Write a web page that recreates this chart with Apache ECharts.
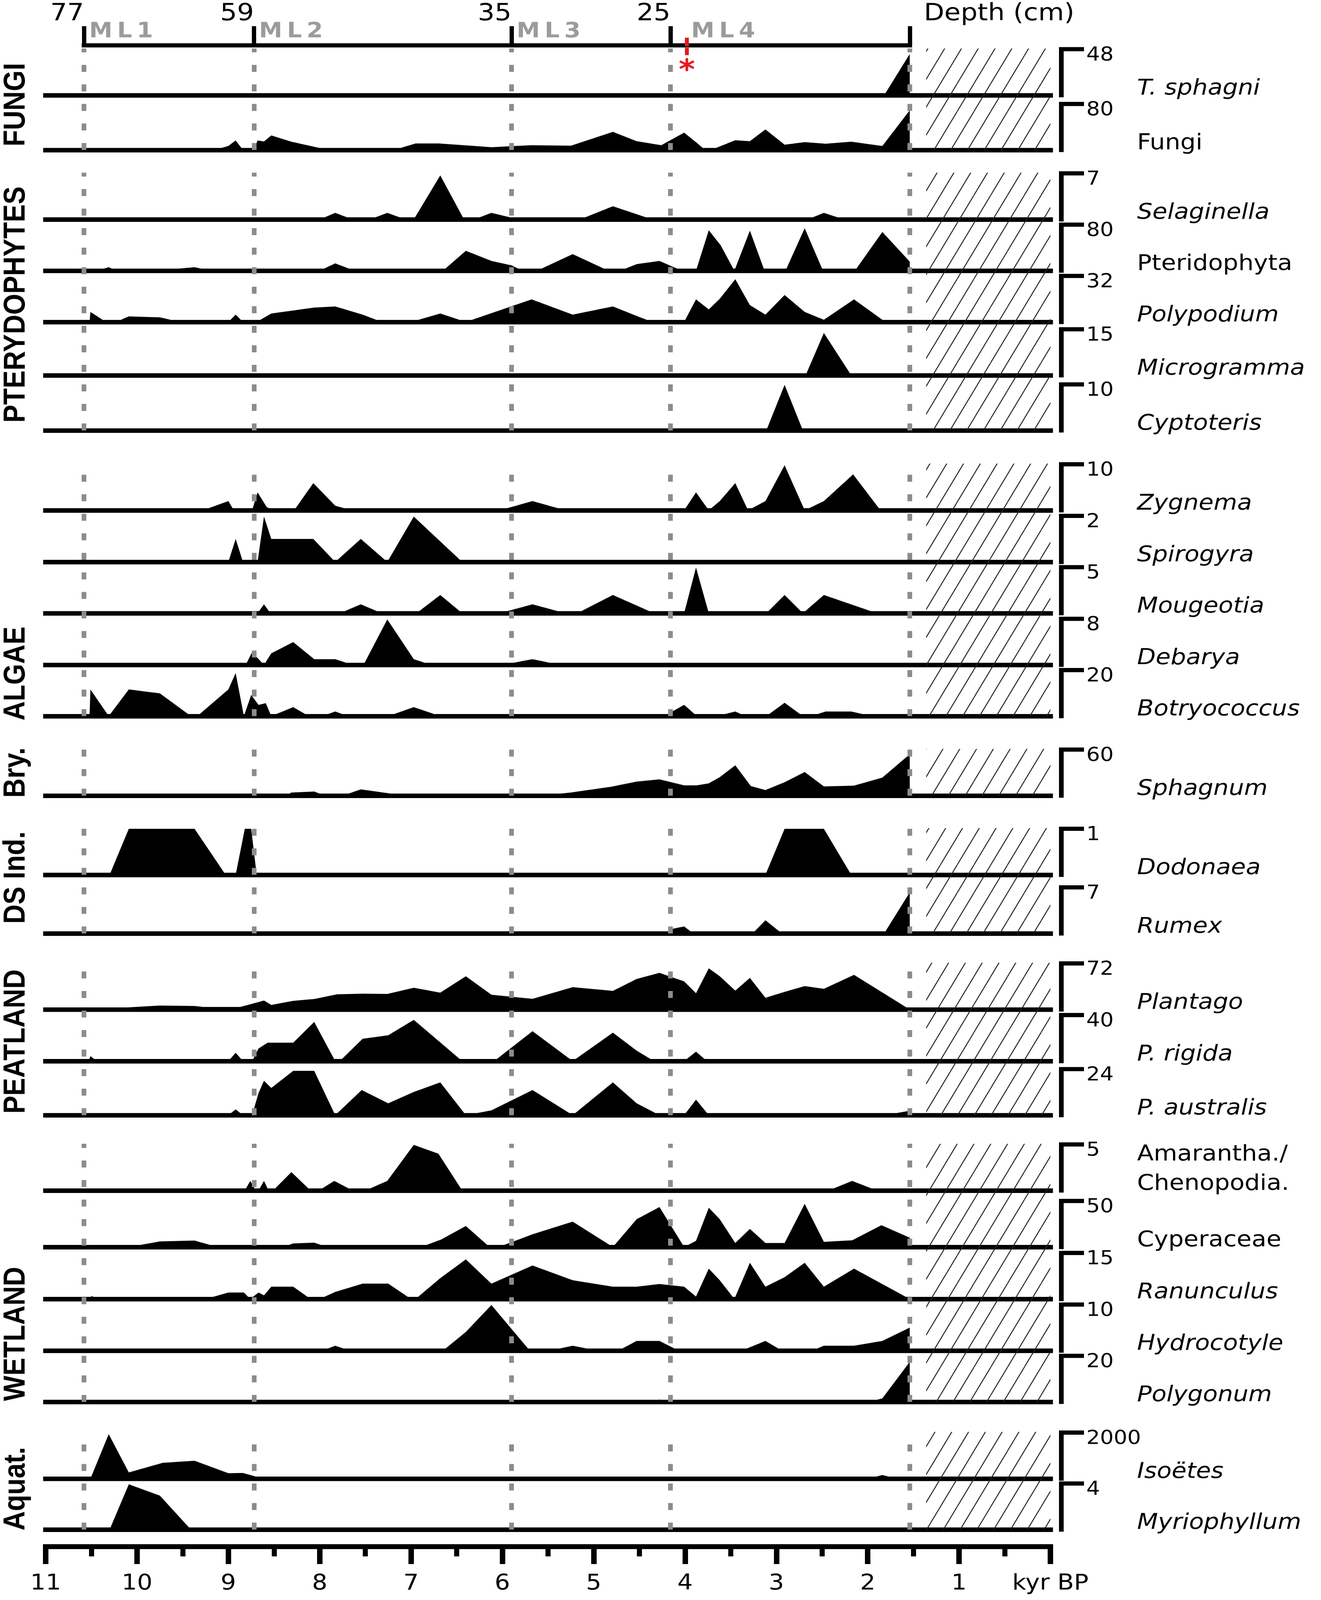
<!DOCTYPE html>
<html>
<head>
<meta charset="utf-8">
<title>Palynomorph diagram</title>
<script src="https://cdn.jsdelivr.net/npm/echarts@6/dist/echarts.min.js"></script>
<style>
html, body { margin: 0; padding: 0; background: #fff; overflow: hidden; }
#container { width: 3383px; height: 4587px; }
</style>
</head>
<body>
<div id="container"></div>
<script>
/**
 * data: [age (kyr BP), value]
 */
var tSphagni = [[1.82,0],[1.54,43]];
var fungi = [[9.16,0],[9.00,7],[8.92,16.6],[8.84,0],[8.72,0],[8.68,16.6],[8.61,14.8],[8.53,25.3],[8.31,14.4],[7.90,0],[7.19,0],[6.95,11.4],[6.69,11.4],[6.12,4.8],[5.68,8.3],[5.25,7.4],[4.79,31.5],[4.53,15.3],[4.26,8.3],[4.01,30.1],[3.87,12.2],[3.78,0],[3.67,3],[3.45,17],[3.29,15.3],[3.12,35.8],[2.91,9.2],[2.69,13.6],[2.46,10.9],[2.18,14.4],[1.84,7],[1.54,69]];
var selaginella = [[8.00,0],[7.83,1.0],[7.64,0],[7.45,0],[7.26,1.0],[7.06,0],[6.97,0],[6.68,6.7],[6.42,0],[6.31,0],[6.12,1.0],[5.82,0],[5.15,0],[4.79,2.0],[4.36,0],[2.66,0],[2.48,1.0],[2.26,0]];
var pteridophyta = [[10.44,0],[10.31,6],[10.22,0],[9.81,0],[9.37,6],[9.19,0],[8.00,0],[7.83,12.7],[7.62,0],[6.65,0],[6.40,34.5],[6.12,17],[5.90,9.2],[5.78,0],[5.62,0],[5.23,28.8],[4.84,0],[4.71,0],[4.53,11.4],[4.28,17],[4.15,7.9],[4.03,0],[3.88,0],[3.74,70.3],[3.61,44.1],[3.46,0],[3.29,69.5],[3.13,0],[2.90,0],[2.69,73.8],[2.49,0],[2.14,0],[1.84,67.3],[1.54,15.7]];
var polypodium = [[10.52,0],[10.51,7.0],[10.34,0],[10.23,0],[10.09,3.9],[9.75,3.2],[9.53,0],[9.00,0],[8.92,5.1],[8.84,0],[8.69,0],[8.53,5.9],[8.06,10.0],[7.83,10.8],[7.53,5.1],[7.32,0],[7.00,0],[6.68,5.9],[6.40,0],[5.68,15.7],[5.23,5.1],[4.79,10.8],[4.53,4.2],[4.36,0],[4.01,0],[3.88,15.7],[3.74,8.7],[3.62,16.1],[3.45,29.7],[3.29,11.7],[3.12,5.1],[2.91,18.7],[2.69,7.0],[2.48,1.5],[2.15,15.7],[1.84,1.5],[1.54,0]];
var microgramma = [[2.68,0],[2.48,13.8],[2.18,0]];
var cyptoteris = [[3.11,0],[2.91,9.9],[2.71,0]];
var zygnema = [[9.28,0],[9.00,2.0],[8.94,0],[8.74,0],[8.68,3.9],[8.58,0.7],[8.50,0],[8.28,0],[8.07,5.9],[7.83,1.0],[7.65,0],[6.03,0],[5.67,2.0],[5.31,0],[4.01,0],[3.88,3.9],[3.74,0],[3.62,2.0],[3.45,5.9],[3.31,0],[3.12,2.0],[2.91,9.8],[2.69,0],[2.48,2.0],[2.16,7.8],[1.86,0]];
var spirogyra = [[9.00,0],[8.92,1.0],[8.84,0],[8.68,0],[8.61,1.97],[8.53,1.0],[8.07,1.0],[7.83,0],[7.55,1.0],[7.26,0],[6.97,1.97],[6.44,0]];
var mougeotia = [[8.68,0],[8.61,0.97],[8.54,0],[7.78,0],[7.55,0.97],[7.32,0],[6.94,0],[6.68,1.98],[6.44,0],[6.03,0],[5.67,0.97],[5.31,0],[5.18,0],[4.79,1.98],[4.34,0],[4.01,0],[3.88,4.96],[3.74,0],[3.11,0],[2.91,1.98],[2.71,0],[2.48,1.98],[1.90,0]];
var debarya = [[8.81,0],[8.74,2.2],[8.61,0],[8.53,2.0],[8.29,3.95],[8.06,0.98],[7.83,0.98],[7.64,0],[7.52,0],[7.26,7.9],[6.97,0.98],[6.78,0],[6.00,0],[5.67,0.98],[5.37,0]];
var botryococcus = [[10.52,0],[10.51,11.6],[10.31,0],[10.09,11.6],[9.75,9.9],[9.41,0],[9.34,0],[9.00,11.6],[8.92,18.7],[8.83,0],[8.75,9.2],[8.67,4.9],[8.59,5.6],[8.53,0],[8.29,3.9],[8.12,0],[7.97,0],[7.83,2.0],[7.69,0],[7.25,0],[6.97,3.9],[6.68,0],[4.23,0],[4.01,4.9],[3.87,0],[3.65,0],[3.45,2.0],[3.34,0],[3.11,0],[2.91,5.8],[2.71,0],[2.62,0],[2.46,2.0],[2.18,2.0],[1.96,0]];
var sphagnum = [[8.37,0],[8.31,4.1],[8.06,5.3],[7.94,0],[7.75,0],[7.55,8.2],[7.06,0],[5.87,0],[5.50,1],[5.25,4.1],[4.81,11.6],[4.53,18.3],[4.28,21.2],[4.01,13.4],[3.87,13.4],[3.74,16],[3.62,24.1],[3.45,39.5],[3.28,12.5],[3.12,7.3],[2.91,17.5],[2.69,30.8],[2.48,12],[2.15,13.1],[1.84,23.5],[1.54,54]];
var dodonaea = [[10.30,0],[10.09,1],[9.37,1],[9.03,0],[8.92,0],[8.82,1],[8.75,1],[8.69,0],[3.12,0],[2.91,1],[2.48,1],[2.18,0]];
var rumex = [[4.16,0],[4.15,0.66],[4.01,1.06],[3.91,0],[3.26,0],[3.12,2.0],[2.94,0],[1.82,0],[1.54,6.25]];
var plantago = [[11.0,3],[10.13,3],[9.75,6.1],[9.37,5.5],[9.28,4],[8.87,4],[8.67,11.6],[8.61,14.1],[8.53,7.1],[8.29,13.5],[8.06,16.4],[7.81,23.7],[7.53,24.7],[7.26,24.3],[6.97,33.9],[6.68,26.3],[6.40,51.9],[6.12,23.1],[5.67,16.7],[5.23,34.9],[4.79,29.1],[4.53,47.7],[4.28,57.3],[4.01,43.9],[3.88,25.3],[3.74,64.4],[3.62,51.9],[3.45,29.5],[3.29,49.3],[3.12,18.3],[2.91,27.5],[2.69,36.5],[2.48,32.3],[2.15,54.1],[1.54,0]];
var pRigida = [[10.53,0],[10.51,4.3],[10.44,0],[9.00,0],[8.92,7.3],[8.84,0],[8.74,0],[8.67,10.9],[8.57,16],[8.29,16],[8.06,34],[7.83,0],[7.78,0],[7.53,19.4],[7.25,22.4],[6.97,35.8],[6.44,0],[6.09,0],[5.67,26],[5.23,0],[4.79,24.7],[4.53,9.1],[4.34,0],[4.01,0],[3.88,8.2],[3.76,0]];
var pAustralis = [[9.00,0],[8.92,3.0],[8.84,0],[8.74,0],[8.67,11.5],[8.61,17.9],[8.53,14.2],[8.29,23.1],[8.06,23.1],[7.83,0],[7.54,13.1],[7.25,6.2],[6.97,12.1],[6.68,17.1],[6.40,0],[6.12,2.5],[5.67,13.1],[5.23,0],[4.79,17.1],[4.53,6.2],[4.28,0],[4.01,0],[3.88,8.1],[3.74,0],[1.81,0],[1.54,2.3]];
var amaranthaChenopodia = [[8.82,0],[8.76,1.04],[8.70,0],[8.67,0],[8.61,1.04],[8.56,0],[8.51,0],[8.31,2.0],[8.10,0],[8.01,0],[7.84,1.04],[7.64,0],[7.50,0],[7.26,1.04],[6.97,4.95],[6.70,4.0],[6.44,0],[2.43,0],[2.17,1.04],[1.90,0]];
var cyperaceae = [[10.09,0],[9.75,6.1],[9.37,7.0],[9.12,0],[8.40,0],[8.29,3.9],[8.06,4.7],[7.92,0],[6.89,0],[6.67,8.1],[6.40,22.8],[6.14,0],[6.04,0],[5.67,13.8],[5.23,27.6],[4.79,0],[4.53,30.2],[4.28,43.4],[4.01,0],[3.88,6.7],[3.74,42.6],[3.62,30.2],[3.45,4.4],[3.29,19.7],[3.12,4.4],[2.91,4.4],[2.69,46.9],[2.48,5.6],[2.17,7.3],[1.85,23.7],[1.54,10.1]];
var ranunculus = [[10.52,0],[10.50,0.9],[10.38,0],[9.25,0],[9.00,2.1],[8.83,2.1],[8.76,0],[8.67,2.1],[8.61,1.2],[8.53,4.0],[8.29,4.0],[8.10,0],[8.00,0],[7.83,2.3],[7.53,5.0],[7.25,5.0],[7.00,0],[6.95,0],[6.68,6.8],[6.40,12.9],[6.12,5.0],[5.67,10.9],[5.23,6.1],[4.79,4.0],[4.53,4.0],[4.28,4.9],[4.01,4.0],[3.88,0.8],[3.74,9.9],[3.62,6.1],[3.46,0],[3.29,11.8],[3.12,4.0],[2.91,7.1],[2.69,11.8],[2.48,4.0],[2.15,9.9],[1.54,0]];
var hydrocotyle = [[7.97,0],[7.83,1.06],[7.67,0],[6.65,0],[6.40,4.05],[6.12,9.9],[5.70,0],[5.48,0],[5.23,1.06],[4.96,0],[4.73,0],[4.53,2.1],[4.28,2.1],[4.07,0],[3.38,0],[3.12,2.1],[2.94,0],[2.61,0],[2.48,1.06],[2.15,1.06],[1.84,2.1],[1.54,5.0]];
var polygonum = [[4.53,0],[4.28,1.0],[4.07,0],[1.99,0],[1.84,1.5],[1.54,17.4]];
var isoetes = [[10.51,0],[10.31,1930],[10.09,268],[9.72,686],[9.37,777],[9.00,235],[8.84,245],[8.62,0],[1.99,0],[1.84,155],[1.68,0]];
var myriophyllum = [[10.30,0],[10.09,3.93],[9.75,2.95],[9.41,0]];

var taxa = [tSphagni, fungi, selaginella, pteridophyta, polypodium, microgramma, cyptoteris,
    zygnema, spirogyra, mougeotia, debarya, botryococcus, sphagnum, dodonaea, rumex,
    plantago, pRigida, pAustralis, amaranthaChenopodia, cyperaceae, ranunculus,
    hydrocotyle, polygonum, isoetes, myriophyllum];
var taxonNames = ['T. sphagni', 'Fungi', 'Selaginella', 'Pteridophyta', 'Polypodium', 'Microgramma', 'Cyptoteris',
    'Zygnema', 'Spirogyra', 'Mougeotia', 'Debarya', 'Botryococcus', 'Sphagnum', 'Dodonaea', 'Rumex',
    'Plantago', 'P. rigida', 'P. australis', 'Amarantha./\nChenopodia.', 'Cyperaceae', 'Ranunculus',
    'Hydrocotyle', 'Polygonum', 'Isoëtes', 'Myriophyllum'];
var taxonItalic = [true, false, true, false, true, true, true, true, true, true, true, true, true, true, true,
    true, true, true, false, false, true, true, true, true, true];
var scaleMax = [48, 80, 7, 80, 32, 15, 10, 10, 2, 5, 8, 20, 60, 1, 7, 72, 40, 24, 5, 50, 15, 10, 20, 2000, 4];

var groupNames = ['FUNGI', 'PTERYDOPHYTES', 'ALGAE', 'Bry.', 'DS Ind.', 'PEATLAND', 'WETLAND', 'Aquat.'];
var groupSizes = [2, 5, 5, 1, 2, 3, 5, 2];

var zoneAges = [10.58, 8.72, 5.90, 4.16, 1.54];
var depthLabels = ['77', '59', '35', '25'];
var zoneNames = ['ML1', 'ML2', 'ML3', 'ML4'];
var hatchAges = [1.36, 0];
var redMarkAge = 3.98;
var ageUnitLabel = 'kyr BP';

// ---- layout ----
var PAGE_W = 3383, PAGE_H = 4587;
var PLOT_LEFT = 117, PLOT_W = 2573, AGE_MAX = 11, PANEL_H = 132;
var panelBaselines = [273, 430, 629, 776, 923, 1076, 1234, 1463, 1611, 1758, 1906, 2053, 2281,
    2508, 2676, 2894, 3042, 3197, 3413, 3575, 3724, 3872, 4019, 4239, 4385];
var groupLabelY = [300, 873, 1931, 2215, 2516, 2986, 3824, 4268];
var FONT = 'DejaVu Sans';

// if the window is not the size of the page, squeeze the page so it all shows
var dom = document.getElementById('container');
(function () {
    var w = window.innerWidth, h = window.innerHeight;
    if (w > 100 && h > 100 && (Math.abs(w - PAGE_W) > 2 || Math.abs(h - PAGE_H) > 2)) {
        dom.style.transformOrigin = '0 0';
        dom.style.transform = 'scale(' + (w / PAGE_W) + ',' + (h / PAGE_H) + ')';
    }
})();

// hatch pattern
var hatch = document.createElement('canvas');
hatch.width = 43; hatch.height = 80;
var hctx = hatch.getContext('2d');
hctx.strokeStyle = '#222';
hctx.lineWidth = 2.5;
for (var k = -1; k <= 1; k++) {
    hctx.beginPath();
    hctx.moveTo(k * 43, 80);
    hctx.lineTo((k + 1) * 43, 0);
    hctx.stroke();
}

var grids = [], xAxes = [], yAxes = [], series = [];

// panels
taxa.forEach(function (d, i) {
    var base = panelBaselines[i];
    grids.push({left: PLOT_LEFT, width: PLOT_W, top: base - PANEL_H, height: PANEL_H});
    xAxes.push({
        type: 'value', gridIndex: i, min: 0, max: AGE_MAX, inverse: true,
        axisLine: {show: true, onZero: false, lineStyle: {color: '#000', width: 13, cap: 'square'}},
        axisTick: {show: false}, axisLabel: {show: false}, splitLine: {show: false}
    });
    yAxes.push({
        type: 'value', gridIndex: i, position: 'right', offset: 28, min: 0, max: scaleMax[i],
        axisLine: {show: true, onZero: false, lineStyle: {color: '#000', width: 12, cap: 'square'}},
        axisTick: {show: true, length: 58, customValues: [scaleMax[i]], lineStyle: {color: '#000', width: 12}},
        axisLabel: {
            show: true, customValues: [scaleMax[i]], margin: 64, verticalAlign: 'top', lineHeight: 36,
            fontSize: 55, fontFamily: FONT, color: '#000',
            formatter: function (v) { return String(v); }
        },
        splitLine: {show: false}
    });
    series.push({
        type: 'line', xAxisIndex: i, yAxisIndex: i, data: d, symbol: 'none',
        lineStyle: {width: 0}, areaStyle: {color: '#000', opacity: 1}, silent: true, z: 2
    });
});

// groups: zone dashed lines and hatched unsampled part
var start = 0;
groupSizes.forEach(function (size, g) {
    var idx = grids.length;
    var top = panelBaselines[start] - PANEL_H - 2;
    var bottom = panelBaselines[start + size - 1];
    grids.push({left: PLOT_LEFT, width: PLOT_W, top: top, height: bottom - top});
    xAxes.push({type: 'value', gridIndex: idx, show: false, min: 0, max: AGE_MAX, inverse: true});
    yAxes.push({type: 'value', gridIndex: idx, show: false, min: 0, max: 1});
    series.push({
        type: 'line', xAxisIndex: idx, yAxisIndex: idx, data: [[AGE_MAX, 0]], symbol: 'none',
        lineStyle: {width: 0}, silent: true, z: 5,
        markLine: {
            silent: true, symbol: ['none', 'none'], label: {show: false},
            lineStyle: {color: '#8c8c8c', width: 12, type: [20, 36]},
            data: zoneAges.map(function (a) { return {xAxis: a}; })
        },
        markArea: {
            silent: true,
            itemStyle: {color: {image: hatch, repeat: 'repeat'}, opacity: 1},
            data: [[{xAxis: hatchAges[0]}, {xAxis: hatchAges[1]}]]
        }
    });
    start += size;
});

// depth axis on top
var pxPerKyr = PLOT_W / AGE_MAX;
var depthIdx = grids.length;
grids.push({
    left: PLOT_LEFT + (AGE_MAX - zoneAges[0]) * pxPerKyr,
    width: (zoneAges[0] - zoneAges[zoneAges.length - 1]) * pxPerKyr,
    top: 60, height: 70
});
xAxes.push({
    type: 'value', gridIndex: depthIdx, position: 'bottom', inverse: true,
    min: zoneAges[zoneAges.length - 1], max: zoneAges[0],
    axisLine: {show: true, onZero: false, lineStyle: {color: '#000', width: 12, cap: 'square'}},
    axisTick: {show: true, inside: true, length: 55, customValues: zoneAges, lineStyle: {color: '#000', width: 11}},
    axisLabel: {
        show: true, inside: true, customValues: zoneAges.slice(0, depthLabels.length), margin: 56, align: 'right',
        fontSize: 68, fontFamily: FONT, color: '#000',
        formatter: function (v) {
            for (var j = 0; j < depthLabels.length; j++) {
                if (Math.abs(zoneAges[j] - v) < 1e-6) return depthLabels[j];
            }
            return '';
        }
    },
    splitLine: {show: false}
});
yAxes.push({type: 'value', gridIndex: depthIdx, show: false, min: 0, max: 1});
series.push({
    type: 'line', xAxisIndex: depthIdx, yAxisIndex: depthIdx, data: [[zoneAges[0], 0]], symbol: 'none',
    lineStyle: {width: 0}, silent: true, z: 5,
    markArea: {
        silent: true,
        itemStyle: {color: 'rgba(0,0,0,0)'},
        label: {
            show: true, position: 'insideBottomLeft', distance: 9, offset: [4, 0],
            formatter: function (p) {
                return p.name.split('').map(function (c) { return '{z|' + c + '}'; }).join('');
            },
            rich: {
                z: {color: '#9b9b9b', fontSize: 60, fontWeight: 'bold', fontFamily: FONT, padding: [0, 12, 0, 0]}
            }
        },
        data: zoneNames.map(function (n, j) {
            var first = {name: n, xAxis: zoneAges[j]};
            if (j === zoneNames.length - 1) first.label = {offset: [44, 0]};
            return [first, {xAxis: zoneAges[j + 1]}];
        })
    }
});

// bottom age axis
var bottomIdx = grids.length;
grids.push({left: PLOT_LEFT, width: PLOT_W, top: 4430, height: 4});
xAxes.push({
    type: 'value', gridIndex: bottomIdx, position: 'bottom', min: 0, max: AGE_MAX, interval: 1, inverse: true,
    axisLine: {show: true, onZero: false, lineStyle: {color: '#000', width: 14, cap: 'square'}},
    axisTick: {show: true, length: 50, lineStyle: {color: '#000', width: 14}},
    minorTick: {show: true, splitNumber: 2, length: 28, lineStyle: {color: '#000', width: 13}},
    axisLabel: {
        show: true, margin: 76, fontSize: 62, fontFamily: FONT, color: '#000',
        formatter: function (v) { return v === 0 ? ageUnitLabel : String(v); }
    },
    splitLine: {show: false}, minorSplitLine: {show: false}
});
yAxes.push({type: 'value', gridIndex: bottomIdx, show: false, min: 0, max: 1});

var chart = echarts.init(dom);
chart.setOption({
    backgroundColor: '#fff',
    animation: false,
    grid: grids,
    xAxis: xAxes,
    yAxis: yAxes,
    series: series
});

// text annotations
var graphics = [];
taxonNames.forEach(function (n, i) {
    graphics.push({
        type: 'text', x: 2912, y: panelBaselines[i] - 18 - (n.indexOf('\n') >= 0 ? 42 : 0), silent: true,
        style: {
            text: n, fill: '#000', fontSize: 62, fontFamily: FONT,
            fontStyle: taxonItalic[i] ? 'italic' : 'normal', lineHeight: 84,
            align: 'left', verticalAlign: 'middle', textAlign: 'left', textVerticalAlign: 'middle'
        }
    });
});
groupNames.forEach(function (n, g) {
    graphics.push({
        type: 'text', x: 42, y: groupLabelY[g], rotation: Math.PI / 2, silent: true,
        style: {
            text: n, fill: '#000', fontSize: 77, fontWeight: 'bold', fontFamily: 'Liberation Sans',
            align: 'center', verticalAlign: 'middle', textAlign: 'center', textVerticalAlign: 'middle'
        }
    });
});
graphics.push({
    type: 'text', x: 2366, y: 40, silent: true,
    style: {
        text: 'Depth (cm)', fill: '#000', fontSize: 68, fontFamily: FONT,
        align: 'left', verticalAlign: 'middle', textAlign: 'left', textVerticalAlign: 'middle'
    }
});

// red marker on the depth axis
var redX = chart.convertToPixel({xAxisIndex: depthIdx}, redMarkAge);
graphics.push({
    type: 'line', silent: true, z: 20,
    shape: {x1: redX, y1: 108, x2: redX, y2: 158},
    style: {stroke: '#e3191f', lineWidth: 10, lineDash: [25, 4]}
});
graphics.push({
    type: 'text', x: redX, y: 205, silent: true, z: 20,
    style: {
        text: '*', fill: '#e3191f', fontSize: 80, fontWeight: 'bold', fontFamily: FONT,
        align: 'center', verticalAlign: 'middle', textAlign: 'center', textVerticalAlign: 'middle'
    }
});

chart.setOption({graphic: graphics});
</script>
</body>
</html>
